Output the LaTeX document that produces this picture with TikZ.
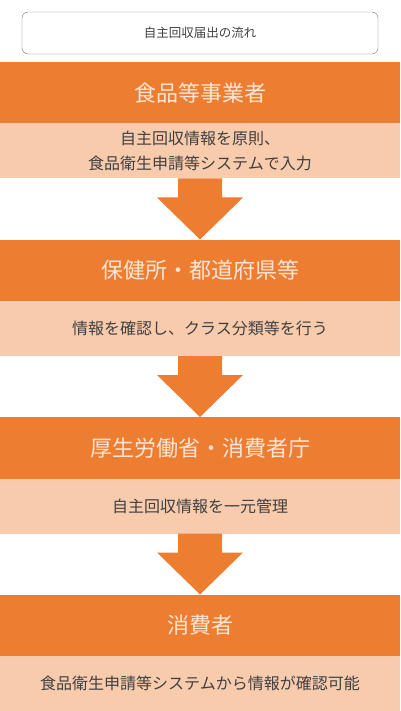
\documentclass[tikz,border=0pt]{standalone}
\usepackage{fontspec}
\setmainfont{Noto Sans CJK JP}
\usetikzlibrary{positioning,calc}

\definecolor{bandorange}{HTML}{ED7D31}
\definecolor{bandlight}{HTML}{F8CBAD}
\definecolor{bandtext}{HTML}{FBE5D6}
\definecolor{bodytext}{HTML}{404040}

\begin{document}
\begin{tikzpicture}[x=1pt,y=1pt,
    band/.style={fill=bandorange, text=bandtext, minimum width=400pt, minimum height=61.5pt,
                 inner sep=0pt, outer sep=0pt, font=\fontsize{22}{25}\selectfont},
    detail/.style={fill=bandlight, text=bodytext, minimum width=400pt, minimum height=55pt,
                   inner sep=0pt, outer sep=0pt, align=center, font=\fontsize{16}{25}\selectfont},
    flowarrow/.style={fill=bandorange}]
  \useasboundingbox (0,0) rectangle (400,-711);
  \node (title) [draw=gray!90!black, rounded corners=6pt, minimum width=356pt, minimum height=42pt,
                 text=bodytext, font=\fontsize{12.5}{14}\selectfont] at (200,-33) {自主回収届出の流れ};
  \node (B1) [band, anchor=north] at (200,-62) {食品等事業者};
  \node (D1) [detail, below=0pt of B1] {自主回収情報を原則、\\食品衛生申請等システムで入力};
  \node (B2) [band, below=61pt of D1] {保健所・都道府県等};
  \node (D2) [detail, below=0pt of B2] {情報を確認し、クラス分類等を行う};
  \node (B3) [band, below=61pt of D2] {厚生労働省・消費者庁};
  \node (D3) [detail, below=0pt of B3] {自主回収情報を一元管理};
  \node (B4) [band, below=61pt of D3] {消費者};
  \node (D4) [detail, below=0pt of B4] {食品衛生申請等システムから情報が確認可能};
  \foreach \a/\b in {D1/B2, D2/B3, D3/B4}
    \fill[flowarrow] ($(\a.south)+(-22,0)$) -- ($(\a.south)+(22,0)$) -- ($(\a.south)+(22,-19)$)
      -- ($(\a.south)+(43,-19)$) -- (\b.north) -- ($(\a.south)+(-43,-19)$)
      -- ($(\a.south)+(-22,-19)$) -- cycle;
\end{tikzpicture}
\end{document}
